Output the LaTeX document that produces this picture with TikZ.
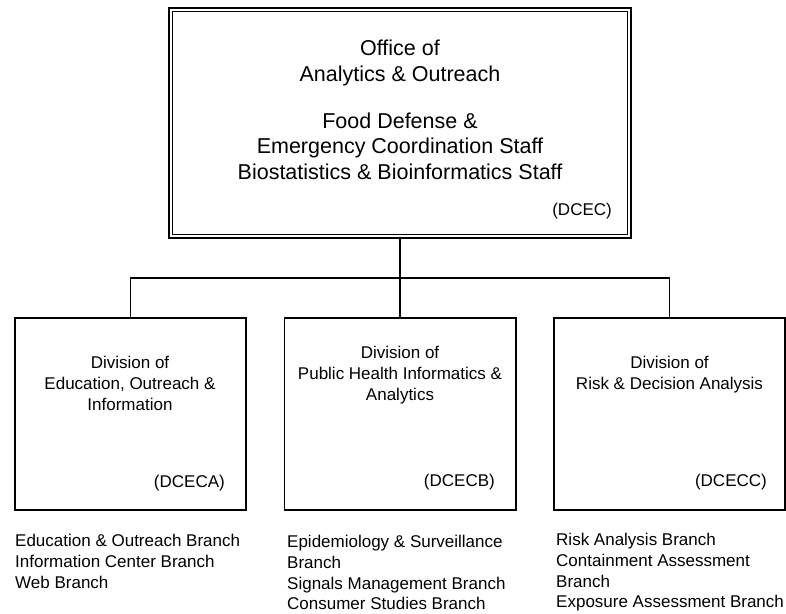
\documentclass[tikz,border=0pt]{standalone}
\usepackage{fontspec}
\setmainfont{Liberation Sans}
\usetikzlibrary{positioning}

\tikzset{
  ofcbox/.style={draw, double, double distance=2pt, line width=1.6pt, outer sep=2.6pt, inner sep=0pt, minimum width=458.8pt, minimum height=226.8pt},
  divbox/.style={draw, line width=1.6pt, inner sep=0pt, minimum width=231.4pt, minimum height=192.4pt},
  conn/.style={line width=1.6pt},
  bigtxt/.style={font=\fontsize{21.5}{25.5}\selectfont, align=center, inner sep=0pt},
  txt/.style={font=\fontsize{17}{20.75}\selectfont, inner sep=0pt},
}

\begin{document}
\begin{tikzpicture}[x=1pt, y=-1pt]
\useasboundingbox (0,0) rectangle (786,613);
% office
\node[ofcbox] (ofc) at (400,123) {};
\node[bigtxt, anchor=north] (ofctitle) at (400,40) {Office of\\Analytics \& Outreach\\[21.5pt]Food Defense \&\\Emergency Coordination Staff\\Biostatistics \& Bioinformatics Staff};
\node[txt, anchor=east] (ofccode) at (612,211) {(DCEC)};

% divisions
\node[divbox] (dcea) at (130.5,414) {};
\node[divbox] (dceb) at (400,414) {};
\node[divbox] (dcec) at (669.5,414) {};
\node[txt, align=center, anchor=north] (deatitle) at (130,356) {Division of\\Education, Outreach \&\\Information};
\node[txt, align=center, anchor=north] (debtitle) at (400,346) {Division of\\Public Health Informatics \&\\Analytics};
\node[txt, align=center, anchor=north] (dectitle) at (669.5,356) {Division of\\Risk \& Decision Analysis};
\node[txt, anchor=east] (deacode) at (225,483) {(DCECA)};
\node[txt, anchor=east] (debcode) at (495,482) {(DCECB)};
\node[txt, anchor=east] (deccode) at (767,482) {(DCECC)};

% branches
\node[txt, align=left, anchor=north west] (dealist) at (15,534) {Education \& Outreach Branch\\Information Center Branch\\Web Branch};
\node[txt, align=left, anchor=north west] (deblist) at (287,535) {Epidemiology \& Surveillance\\Branch\\Signals Management Branch\\Consumer Studies Branch};
\node[txt, align=left, anchor=north west] (declist) at (556,533) {Risk Analysis Branch\\Containment Assessment\\Branch\\Exposure Assessment Branch};

% connectors
\coordinate (bus) at (400,278);
\draw[conn] (ofc.south) -- (dceb.north);
\draw[conn] (dcea.north) |- (bus) -| (dcec.north);
\end{tikzpicture}
\end{document}
